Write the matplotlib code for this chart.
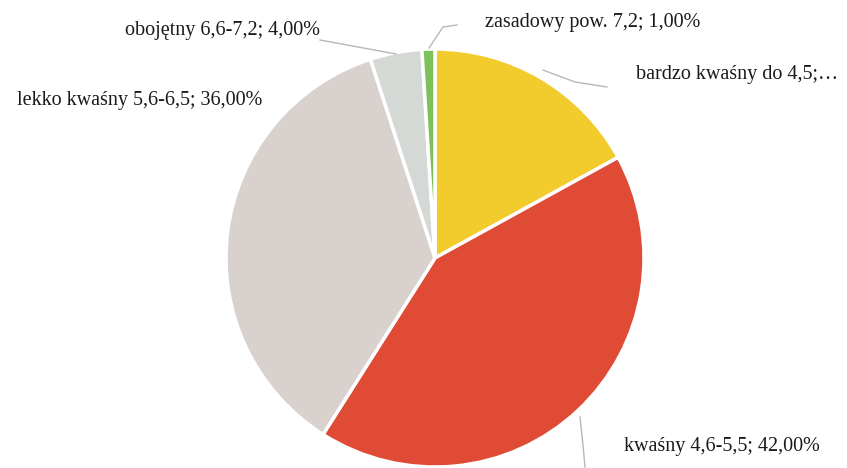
import matplotlib.pyplot as plt

labels = ['bardzo kwaśny do 4,5;…', 'kwaśny 4,6-5,5; 42,00%', 'lekko kwaśny 5,6-6,5; 36,00%',
          'obojętny 6,6-7,2; 4,00%', 'zasadowy pow. 7,2; 1,00%']
shares = [17, 42, 36, 4, 1]
colors = ['#F2CB2C', '#E04B36', '#D9D1CD', '#D4D9D6', '#7DC15A']

plt.rcParams['font.family'] = ['Liberation Serif', 'DejaVu Serif']

W, H = 847, 468
fig = plt.figure(figsize=(W / 100, H / 100), dpi=100)
ax = fig.add_axes([0, 0, 1, 1])

# pie in pixel coordinates (y axis inverted, so counterclock=True reads clockwise)
ax.pie(shares, colors=colors, startangle=-90, counterclock=True,
       center=(435, 258), radius=209, frame=True,
       wedgeprops=dict(edgecolor='white', linewidth=2.5))
ax.set_xlim(0, W)
ax.set_ylim(H, 0)
ax.set_aspect('equal')
ax.axis('off')

line_kw = dict(color='#b8b8b8', linewidth=1)
# leader lines
ax.plot([543, 575, 607], [70, 82, 87], **line_kw)
ax.plot([580, 583, 585], [417, 445, 467], **line_kw)
ax.plot([320, 396], [40, 54], **line_kw)
ax.plot([429, 443, 457], [48, 27, 25], **line_kw)

fs = 14.5
tc = '#1a1a1a'
ax.text(838, 75, labels[0], fontsize=fs, ha='right', va='center', color=tc)
ax.text(820, 447, labels[1], fontsize=fs, ha='right', va='center', color=tc)
ax.text(262, 100, labels[2], fontsize=fs, ha='right', va='center', color=tc)
ax.text(320, 30, labels[3], fontsize=fs, ha='right', va='center', color=tc)
ax.text(700, 22, labels[4], fontsize=fs, ha='right', va='center', color=tc)

fig.savefig('out.png', dpi=100)
